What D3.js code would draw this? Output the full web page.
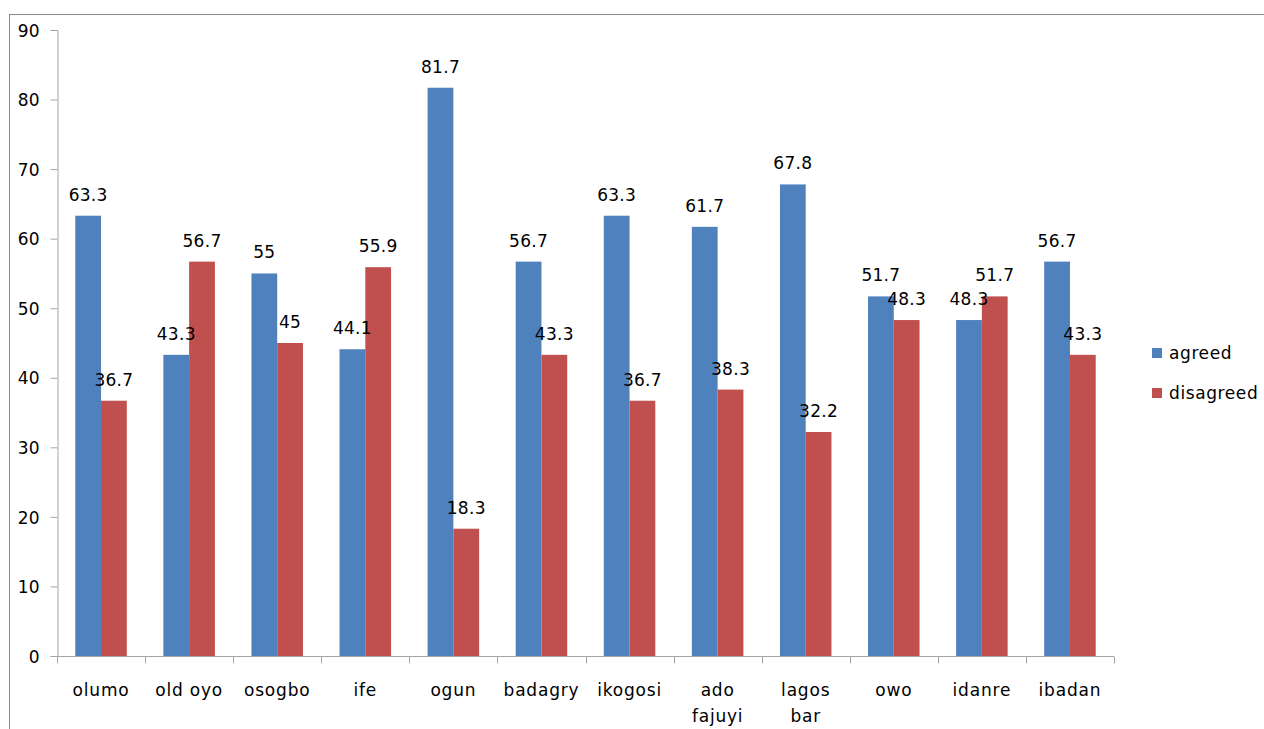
<!DOCTYPE html>
<html>
<head>
<meta charset="utf-8">
<script src="https://cdn.jsdelivr.net/npm/d3@7"></script>
<style>
  body { margin: 0; background: #fff; }
  text { font-family: "DejaVu Sans", sans-serif; fill: #000; }
</style>
</head>
<body>
<div class="chart"></div>
<script>
// data
var categories = ["olumo", "old oyo", "osogbo", "ife", "ogun", "badagry", "ikogosi", "ado fajuyi", "lagos bar", "owo", "idanre", "ibadan"];
var agreed = [63.3, 43.3, 55, 44.1, 81.7, 56.7, 63.3, 61.7, 67.8, 51.7, 48.3, 56.7];
var disagreed = [36.7, 56.7, 45, 55.9, 18.3, 43.3, 36.7, 38.3, 32.2, 48.3, 51.7, 43.3];
var seriesNames = ["agreed", "disagreed"];
var yTicks = [0, 10, 20, 30, 40, 50, 60, 70, 80, 90];

var colors = ["#4F81BD", "#C0504D"];
var svgWidth = 1264;
var svgHeight = 729;

var margin = { top: 30, left: 57 };
var width = 1114 - margin.left;
var height = 656 - margin.top;

var svg = d3.select(".chart")
  .append("svg")
  .attr("width", svgWidth)
  .attr("height", svgHeight);

// outer chart border (runs off the page to the right and bottom)
svg.append("rect")
  .attr("x", 9.5)
  .attr("y", 14.5)
  .attr("width", 1400)
  .attr("height", 800)
  .attr("fill", "none")
  .attr("stroke", "#8c8c8c")
  .attr("stroke-width", 1);

var chartGroup = svg.append("g")
  .attr("transform", `translate(${margin.left}, ${margin.top})`);

var x0 = d3.scaleBand()
  .domain(categories)
  .range([0, width])
  .paddingInner(0.415)
  .paddingOuter(0.2075);

var x1 = d3.scaleBand()
  .domain(seriesNames)
  .range([0, x0.bandwidth()]);

var y = d3.scaleLinear()
  .domain([0, 90])
  .range([height, 0]);

var table = categories.map(function(c, i) {
  return { cat: c, values: [agreed[i], disagreed[i]] };
});

// y axis
var leftAxis = d3.axisLeft(y).tickValues(yTicks).tickSize(7).tickPadding(11);
var yAxisG = chartGroup.append("g").attr("transform", "translate(0.5,0)").call(leftAxis);
yAxisG.select(".domain").attr("stroke", "#a6a6a6");
yAxisG.selectAll(".tick line").attr("stroke", "#a6a6a6");
yAxisG.selectAll("text")
  .style("font-family", "DejaVu Sans")
  .style("font-size", "17px")
  .attr("dy", "0.36em")
  .attr("fill", "#000");

// x axis: category ticks on band boundaries
var xAxisG = chartGroup.append("g").attr("transform", `translate(0, ${height + 0.5})`);
xAxisG.append("line")
  .attr("x1", 0).attr("x2", width)
  .attr("stroke", "#a6a6a6");
var step = width / categories.length;
xAxisG.selectAll(".xt")
  .data(d3.range(categories.length + 1))
  .enter()
  .append("line")
  .attr("x1", d => Math.round(d * step) + 0.5)
  .attr("x2", d => Math.round(d * step) + 0.5)
  .attr("y1", 0)
  .attr("y2", 7)
  .attr("stroke", "#a6a6a6");

// category labels (wrap long names onto two lines)
var labels = xAxisG.selectAll(".xl")
  .data(categories)
  .enter()
  .append("text")
  .attr("text-anchor", "middle")
  .style("font-size", "17px")
  .style("letter-spacing", "0.8px")
  .attr("transform", d => `translate(${x0(d) + x0.bandwidth() / 2}, 39)`);
labels.each(function(d) {
  var words = (d === "old oyo") ? [d] : d.split(" ");
  var t = d3.select(this);
  words.forEach(function(w, i) {
    t.append("tspan").attr("x", 0).attr("y", i * 26).text(w);
  });
});

// bars
var groups = chartGroup.selectAll(".grp")
  .data(table)
  .enter()
  .append("g")
  .attr("transform", d => `translate(${x0(d.cat)},0)`);

groups.selectAll("rect")
  .data(d => d.values.map((v, i) => ({ key: seriesNames[i], value: v, i: i })))
  .enter()
  .append("rect")
  .attr("x", d => x1(d.key))
  .attr("y", d => y(d.value))
  .attr("width", x1.bandwidth())
  .attr("height", d => height - y(d.value))
  .attr("fill", d => colors[d.i]);

groups.selectAll(".lbl")
  .data(d => d.values.map((v, i) => ({ key: seriesNames[i], value: v, i: i })))
  .enter()
  .append("text")
  .attr("text-anchor", "middle")
  .style("font-size", "17px")
  .style("letter-spacing", "0.3px")
  .attr("x", d => x1(d.key) + x1.bandwidth() / 2)
  .attr("y", d => y(d.value) - 15)
  .text(d => d.value);

// legend
var legend = svg.append("g").attr("transform", "translate(1152, 348)");
seriesNames.forEach(function(s, i) {
  legend.append("rect")
    .attr("x", 0).attr("y", i * 40)
    .attr("width", 10).attr("height", 10)
    .attr("fill", colors[i]);
  legend.append("text")
    .attr("x", 17).attr("y", i * 40 + 11)
    .style("font-size", "17px")
    .style("letter-spacing", "0.6px")
    .text(s);
});
</script>
</body>
</html>
